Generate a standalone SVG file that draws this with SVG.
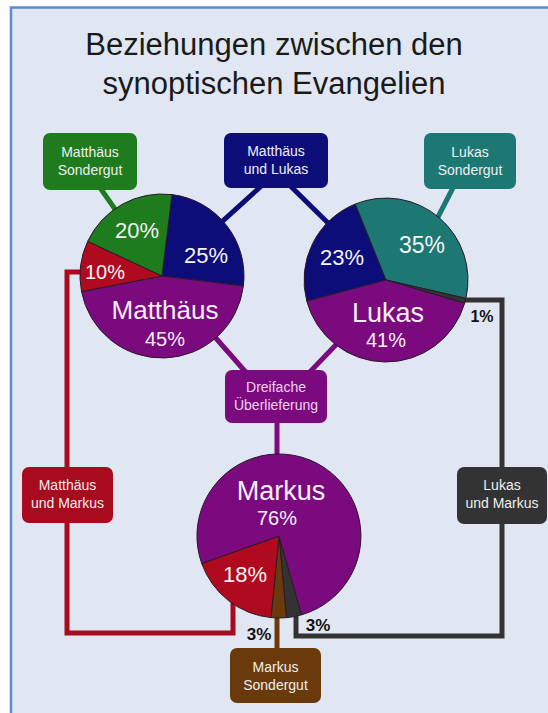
<svg xmlns="http://www.w3.org/2000/svg" width="548" height="713" viewBox="0 0 548 713">
<style>
.t{font-family:"Liberation Sans",Arial,sans-serif;text-anchor:middle}
.bx{font-size:14px;fill:#efefef}
.pl{font-size:22px;fill:#f4f4f4}
.big{font-size:27px;fill:#f6eef6}
.pc{font-size:20px;fill:#f6eef6}
.bold{font-size:17px;font-weight:bold;fill:#111}
.c{fill:none;stroke-width:5}
.sl{stroke:#2a1a2a;stroke-width:1;stroke-linejoin:round}
</style>
<rect x="0" y="0" width="548" height="713" fill="#ffffff"/>
<rect x="11" y="7.5" width="560" height="720" fill="#e1e7f2" stroke="#5b8ccc" stroke-width="2.5"/>
<g id="title" class="t" style="font-size:31px;fill:#1a1a1a">
<text x="274" y="55">Beziehungen zwischen den</text>
<text x="274" y="94">synoptischen Evangelien</text>
</g>
<g id="connectors">
<line class="c" stroke="#1e7b1e" x1="96" y1="182" x2="162" y2="276"/>
<line class="c" stroke="#0d0d7a" x1="290" y1="160" x2="162" y2="276"/>
<line class="c" stroke="#0d0d7a" x1="264" y1="160" x2="386" y2="280"/>
<line class="c" stroke="#1d7773" x1="457" y1="180" x2="420" y2="252"/>
<line class="c" stroke="#7a0a7d" x1="200" y1="320" x2="250" y2="377"/>
<line class="c" stroke="#7a0a7d" x1="355" y1="325" x2="305" y2="377"/>
<line class="c" stroke="#7a0a7d" x1="277" y1="410" x2="277" y2="470"/>
<path class="c" stroke="#a80a1e" d="M90 272 H67 V633 H233 V600"/>
<path class="c" stroke="#333333" d="M455 300 H502 V636 H296 V610"/>
<line class="c" stroke="#6a3a0c" x1="277" y1="610" x2="277" y2="650"/>
</g>
<g id="matthaeus">
<path class="sl" fill="#0d0d7a" d="M162 276 L172 194.6 A82 82 0 0 1 243.4 286 Z"/>
<path class="sl" fill="#7a0a7d" d="M162 276 L243.4 286 A82 82 0 0 1 81.5 291.6 Z"/>
<path class="sl" fill="#b00a1e" d="M162 276 L81.5 291.6 A82 82 0 0 1 87.7 241.3 Z"/>
<path class="sl" fill="#1e7b1e" d="M162 276 L87.7 241.3 A82 82 0 0 1 172 194.6 Z"/>
<g class="t">
<text class="pl" x="137" y="238">20%</text>
<text class="pl" x="206" y="263">25%</text>
<text class="pl" x="105" y="279" style="font-size:20px">10%</text>
<text class="big" x="165" y="319" style="font-size:26px">Matthäus</text>
<text class="pc" x="165" y="346">45%</text>
</g>
</g>
<g id="lukas">
<path class="sl" fill="#0d0d7a" d="M386 280 L306.8 301.2 A82 82 0 0 1 355.3 204 Z"/>
<path class="sl" fill="#1d7773" d="M386 280 L355.3 204 A82 82 0 0 1 465.9 298.4 Z"/>
<path class="sl" fill="#333333" d="M386 280 L465.9 298.4 A82 82 0 0 1 464.6 303.4 Z"/>
<path class="sl" fill="#7a0a7d" d="M386 280 L464.6 303.4 A82 82 0 0 1 306.8 301.2 Z"/>
<g class="t">
<text class="pl" x="342" y="265">23%</text>
<text class="pl" x="422" y="253" style="font-size:23px">35%</text>
<text class="big" x="388" y="322">Lukas</text>
<text class="pc" x="386" y="347">41%</text>
<text class="bold" x="482" y="322" style="font-size:16px">1%</text>
</g>
</g>
<g id="markus">
<path class="sl" fill="#333333" d="M279 536 L301.6 614.8 A82 82 0 0 1 286.4 617.7 Z"/>
<path class="sl" fill="#6a3a0c" d="M279 536 L286.4 617.7 A82 82 0 0 1 271 617.6 Z"/>
<path class="sl" fill="#b00a1e" d="M279 536 L271 617.6 A82 82 0 0 1 201.7 563.5 Z"/>
<path class="sl" fill="#7a0a7d" d="M279 536 L201.7 563.5 A82 82 0 1 1 301.6 614.8 Z"/>
<g class="t">
<text class="big" x="281" y="500">Markus</text>
<text class="pc" x="277" y="525">76%</text>
<text class="pl" x="245" y="582">18%</text>
<text class="bold" x="259" y="640">3%</text>
<text class="bold" x="318" y="631">3%</text>
</g>
</g>
<g id="box-matthaeus-sondergut">
<rect x="43" y="133" width="94" height="57" rx="7" fill="#1e7b1e"/>
<text class="t bx" x="90" y="157">Matthäus</text>
<text class="t bx" x="90" y="175">Sondergut</text>
</g>
<g id="box-matthaeus-lukas">
<rect x="224" y="133" width="104" height="55" rx="7" fill="#0d0d7a"/>
<text class="t bx" x="276" y="156">Matthäus</text>
<text class="t bx" x="276" y="174">und Lukas</text>
</g>
<g id="box-lukas-sondergut">
<rect x="424" y="133" width="92" height="56" rx="7" fill="#1d7773"/>
<text class="t bx" x="470" y="156.5">Lukas</text>
<text class="t bx" x="470" y="174.5">Sondergut</text>
</g>
<g id="box-dreifache">
<rect x="225" y="370" width="102" height="53" rx="7" fill="#7a0a7d"/>
<text class="t bx" x="276" y="392" style="fill:#f2d2f2">Dreifache</text>
<text class="t bx" x="276" y="410" style="fill:#f2d2f2">Überlieferung</text>
</g>
<g id="box-matthaeus-markus">
<rect x="22" y="467" width="91" height="56" rx="7" fill="#a80a1e"/>
<text class="t bx" x="67.5" y="490">Matthäus</text>
<text class="t bx" x="67.5" y="508">und Markus</text>
</g>
<g id="box-lukas-markus">
<rect x="457" y="467" width="90" height="57" rx="7" fill="#333333"/>
<text class="t bx" x="502" y="490">Lukas</text>
<text class="t bx" x="502" y="508">und Markus</text>
</g>
<g id="box-markus-sondergut">
<rect x="230" y="648" width="91" height="55" rx="7" fill="#6a3a0c"/>
<text class="t bx" x="275.5" y="672">Markus</text>
<text class="t bx" x="275.5" y="690">Sondergut</text>
</g>
</svg>
